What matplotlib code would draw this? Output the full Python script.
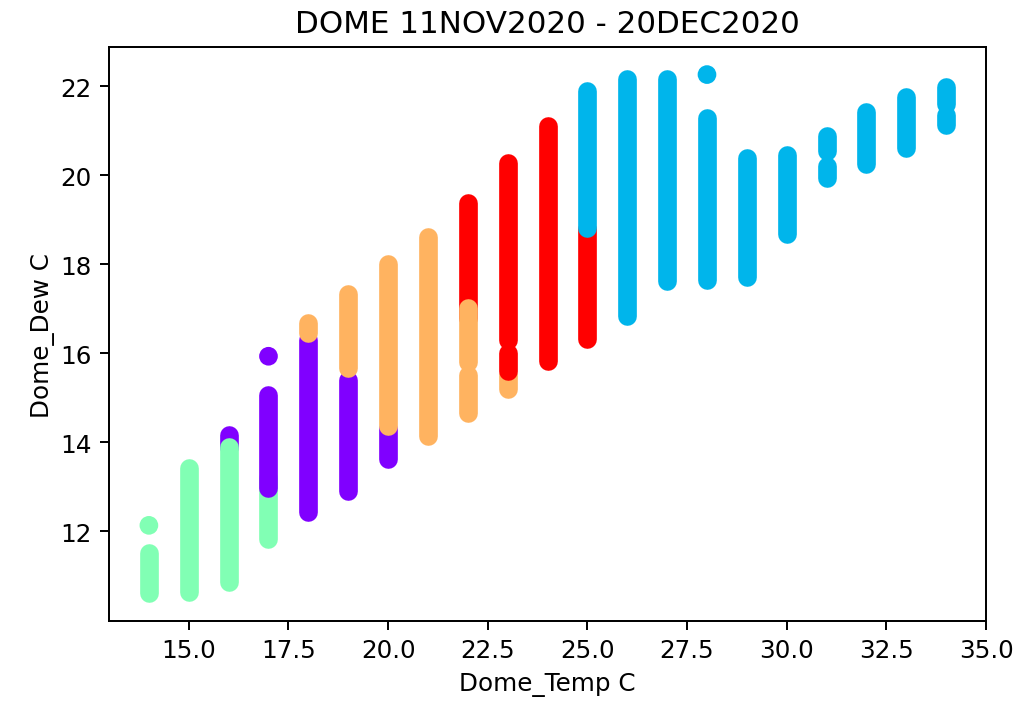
import matplotlib
matplotlib.use("Agg")
import matplotlib.pyplot as plt
from matplotlib.collections import LineCollection
import numpy as np

# Dome temperature (C) readings, each a contiguous run of dew-point values
# (C) belonging to one cluster; runs are drawn in list order.
run_temp = [14, 14, 15, 16, 16,
            17, 17, 17,
            18, 18,
            19, 19,
            20, 20,
            21,
            22, 22, 22,
            23, 23, 23,
            24,
            25, 25,
            26, 27, 28, 28, 29, 30,
            31, 31, 32, 33, 34, 34]
run_dew_low = [10.60, 12.13, 10.63, 13.90, 10.86,
               11.83, 12.98, 15.93,
               12.43, 16.45,
               12.90, 15.67,
               13.61, 14.36,
               14.14,
               16.80, 15.80, 14.66,
               15.19, 16.30, 15.60,
               15.82,
               16.31, 18.82,
               16.83, 17.62, 17.64, 22.26, 17.70, 18.67,
               20.55, 19.94, 20.24, 20.60, 21.60, 21.12]
run_dew_high = [11.50, 12.13, 13.41, 14.16, 13.90,
                13.20, 15.07, 15.93,
                16.30, 16.67,
                15.40, 17.32,
                14.30, 18.00,
                18.62,
                19.37, 17.01, 15.50,
                15.50, 20.27, 16.00,
                21.10,
                18.80, 21.88,
                22.16, 22.16, 21.28, 22.26, 20.39, 20.45,
                20.87, 20.20, 21.43, 21.76, 21.97, 21.35]
run_cluster = [2, 2, 2, 0, 2,
               2, 0, 0,
               0, 3,
               0, 3,
               0, 3,
               3,
               4, 3, 3,
               3, 4, 4,
               4,
               4, 1,
               1, 1, 1, 1, 1, 1,
               1, 1, 1, 1, 1, 1]

title_text = "DOME 11NOV2020 - 20DEC2020"
x_label = "Dome_Temp C"
y_label = "Dome_Dew C"

DPI = 177
MARK_PT = 7.6  # dot diameter in points

fig = plt.figure(figsize=(1018 / DPI, 713 / DPI), dpi=DPI)
ax = fig.add_axes([0.1071, 0.1276, 0.8615, 0.8051])

cmap = plt.get_cmap("rainbow")

# Runs spanning several readings become round-capped vertical strokes,
# single readings become plain dots of the same diameter.
segs, seg_cols = [], []
dot_x, dot_y, dot_cols = [], [], []
for t, lo, hi, c in zip(run_temp, run_dew_low, run_dew_high, run_cluster):
    col = cmap(c / 4.0)
    if hi > lo:
        segs.append([(t, lo), (t, hi)])
        seg_cols.append(col)
    else:
        dot_x.append(t)
        dot_y.append(lo)
        dot_cols.append(col)

lc = LineCollection(segs, colors=seg_cols, linewidths=MARK_PT, capstyle="round")
ax.add_collection(lc)
ax.scatter(dot_x, dot_y, s=MARK_PT ** 2, c=dot_cols, linewidths=0)

ax.set_xlim(13.0, 35.0)
ax.set_ylim(9.98, 22.88)
xt = np.arange(15.0, 35.01, 2.5)
ax.set_xticks(xt)
ax.set_xticklabels([f"{v:.1f}" for v in xt])
ax.set_yticks([12, 14, 16, 18, 20, 22])

ax.set_title(title_text, fontsize=12.6)
ax.set_xlabel(x_label)
ax.set_ylabel(y_label, labelpad=2)

fig.savefig("out.png", dpi=DPI)
